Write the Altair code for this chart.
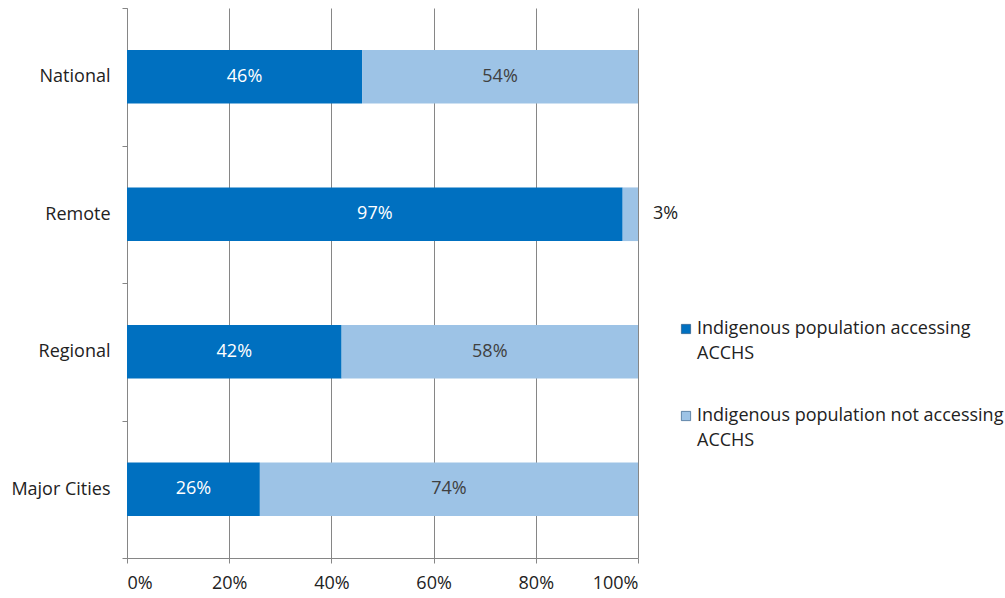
import altair as alt
import pandas as pd

regions = ["National", "Remote", "Regional", "Major Cities"]
accessing = [46, 97, 42, 26]
not_accessing = [54, 3, 58, 74]
series = ["Indigenous population accessing ACCHS",
          "Indigenous population not accessing ACCHS"]
colors = ["#0070C0", "#9DC3E6"]
label_colors = ["#FFFFFF", "#404040"]

rows = []
for i, r in enumerate(regions):
    start = 0
    for s, vals, lc in [(0, accessing, label_colors[0]), (1, not_accessing, label_colors[1])]:
        v = vals[i]
        rows.append({"region": r, "series": series[s], "order": s,
                     "start": start, "end": start + v, "value": v,
                     "label": f"{v}%", "lc": lc})
        start += v
df = pd.DataFrame(rows)

FONT = "Open Sans"
FS = 18
TXT = "#222222"

y_enc = alt.Y("region:N", sort=regions, title=None,
              scale=alt.Scale(paddingInner=0, paddingOuter=0),
              axis=alt.Axis(tickBand="extent", domainColor="#868686", tickColor="#868686",
                            tickSize=5, labelPadding=12, labelFontSize=FS,
                            labelColor=TXT, labelFont=FONT, grid=False))
x_scale = alt.Scale(domain=[0, 100])

bars = alt.Chart(df).mark_bar(height={"band": 0.39}).encode(
    x=alt.X("start:Q", scale=x_scale, title=None,
            axis=alt.Axis(values=[0, 20, 40, 60, 80, 100], labelExpr="datum.value + '%'",
                          grid=True, gridColor="#868686", domainColor="#868686",
                          tickColor="#868686", tickSize=5, labelPadding=11,
                          labelFontSize=FS, labelColor=TXT, labelFont=FONT)),
    x2="end:Q",
    y=y_enc,
    color=alt.Color("series:N", scale=alt.Scale(domain=series, range=colors),
                    legend=alt.Legend(title=None, orient="none", legendX=550, legendY=312,
                                      symbolType="square", symbolSize=85,
                                      symbolStrokeColor="#1F4E79", symbolStrokeWidth=0.6,
                                      labelFont=FONT, labelFontSize=FS, labelColor=TXT,
                                      labelLimit=400, rowPadding=44, labelOffset=2,
                                      labelExpr="split(replace(datum.label, ' ACCHS', '|ACCHS'), '|')",
                                      labelBaseline="middle")),
    order="order:Q",
)

inside = alt.Chart(df).transform_filter("datum.value >= 5").transform_calculate(
    mid="(datum.start + datum.end) / 2"
).mark_text(font=FONT, fontSize=FS, baseline="middle").encode(
    x=alt.X("mid:Q", scale=x_scale),
    y=alt.Y("region:N", sort=regions),
    text="label:N",
    color=alt.Color("lc:N", scale=None),
)

outside = alt.Chart(df).transform_filter("datum.value < 5").mark_text(
    font=FONT, fontSize=FS, baseline="middle", align="left", dx=15, color=TXT
).encode(
    x=alt.X("end:Q", scale=x_scale),
    y=alt.Y("region:N", sort=regions),
    text="label:N",
)

chart = alt.layer(bars, inside, outside).properties(
    width=511, height=550,
    autosize=alt.AutoSizeParams(type="none"),
    padding={"left": 127, "top": 8, "right": 367, "bottom": 40},
    background="white",
).configure(
    style={"guide-label": {"lineHeight": 25}},
).configure_view(stroke=None)

chart.save("out.html", embed_options={"renderer": "svg", "actions": False})
